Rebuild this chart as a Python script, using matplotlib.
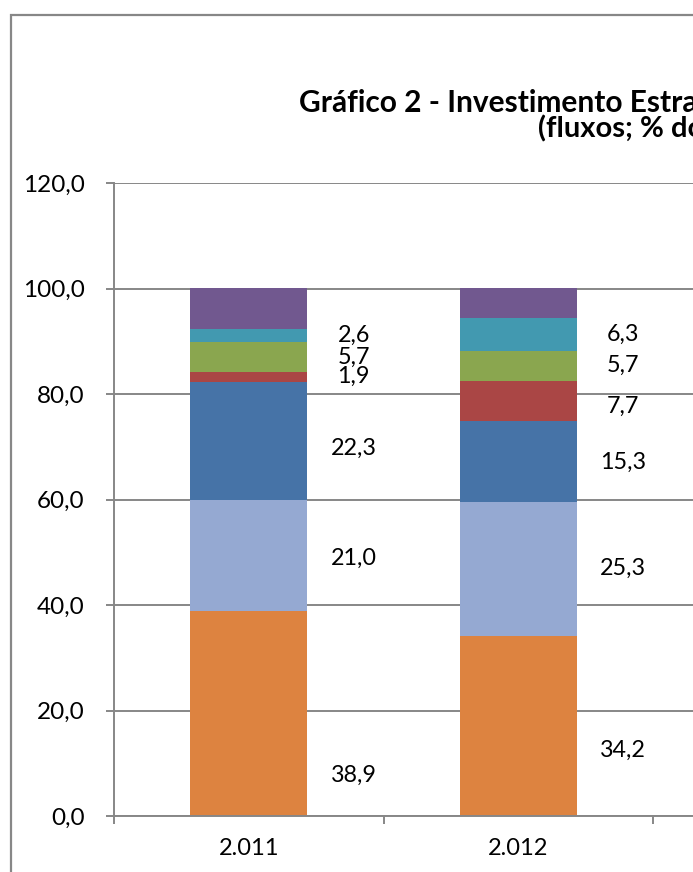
import matplotlib.pyplot as plt
from matplotlib.patches import Rectangle

plt.rcParams['font.family'] = ['Lato', 'DejaVu Sans']

# Data (% of total flows), bottom to top
anos = ["2.011", "2.012"]
serie1 = [38.9, 34.2]
serie2 = [21.0, 25.3]
serie3 = [22.3, 15.3]
serie4 = [1.9, 7.7]
serie5 = [5.7, 5.7]
serie6 = [2.6, 6.3]
serie7 = [7.6, 5.5]
series = [serie1, serie2, serie3, serie4, serie5, serie6, serie7]
rotulado = [True, True, True, True, True, True, False]

cores = ['#DD8340', '#95A9D2', '#4673A7', '#AA4645', '#8AA64F', '#4299B0', '#71588F']
# small vertical nudges of the labels (data units), as placed in the original
ajuste = [[-11.8, -4.6], [-0.5, 0.1], [-1.3, -0.2], [0.2, -1.0],
          [0, 0], [0, 0], [0, 0]]

W, H = 693, 872
fig = plt.figure(figsize=(W / 100, H / 100), dpi=100)

# outer chart border (cropped at right/bottom)
fig.patches.append(Rectangle((11 / W, -0.1), 1.2, (H - 15) / H + 0.1,
                             transform=fig.transFigure, fill=False,
                             edgecolor='#878787', linewidth=1.6))

ax = fig.add_axes([114 / W, (H - 816) / H, 808.5 / W, 633 / H])

x = range(len(anos))
base = [0.0] * len(anos)
for i, vals in enumerate(series):
    ax.bar(x, vals, width=0.434, bottom=base, color=cores[i], zorder=2)
    if rotulado[i]:
        for j, v in enumerate(vals):
            yc = base[j] + v / 2 + ajuste[i][j]
            ax.text(j + 0.39, yc, f"{v:.1f}".replace('.', ','),
                    ha='center', va='center', fontsize=16.8, color='black')
    base = [b + v for b, v in zip(base, vals)]

ax.set_xlim(-0.5, 2.5)
ax.set_ylim(0, 120)
ax.set_yticks(range(0, 121, 20))
ax.set_yticklabels([f"{v:.1f}".replace('.', ',') for v in range(0, 121, 20)])
ax.set_xticks(list(x))
ax.set_xticklabels(anos)
ax.set_xticks([-0.5, 0.5, 1.5, 2.5], minor=True)
ax.tick_params(axis='x', which='major', length=0, pad=16, labelsize=17)
ax.tick_params(axis='x', which='minor', length=6, width=1.4, color='#878787', direction='out')
ax.tick_params(axis='y', length=6, width=1.4, color='#878787', direction='out',
               pad=15, labelsize=17.5)
ax.yaxis.grid(True, color='#878787', linewidth=1.4, zorder=0)
ax.set_axisbelow(True)
for s in ['top', 'right']:
    ax.spines[s].set_visible(False)
for s in ['left', 'bottom']:
    ax.spines[s].set_color('#878787')
    ax.spines[s].set_linewidth(1.4)
ax.spines['bottom'].set_zorder(3)

fig.text(299 / W, (H - 112) / H, "Gráfico 2 - Investimento Estrangeiro Direto",
         fontsize=21.5, fontweight='bold', ha='left', va='baseline')
fig.text(538 / W, (H - 137) / H, "(fluxos; % do total)",
         fontsize=21, fontweight='bold', ha='left', va='baseline')

fig.savefig("out.png", dpi=100)
